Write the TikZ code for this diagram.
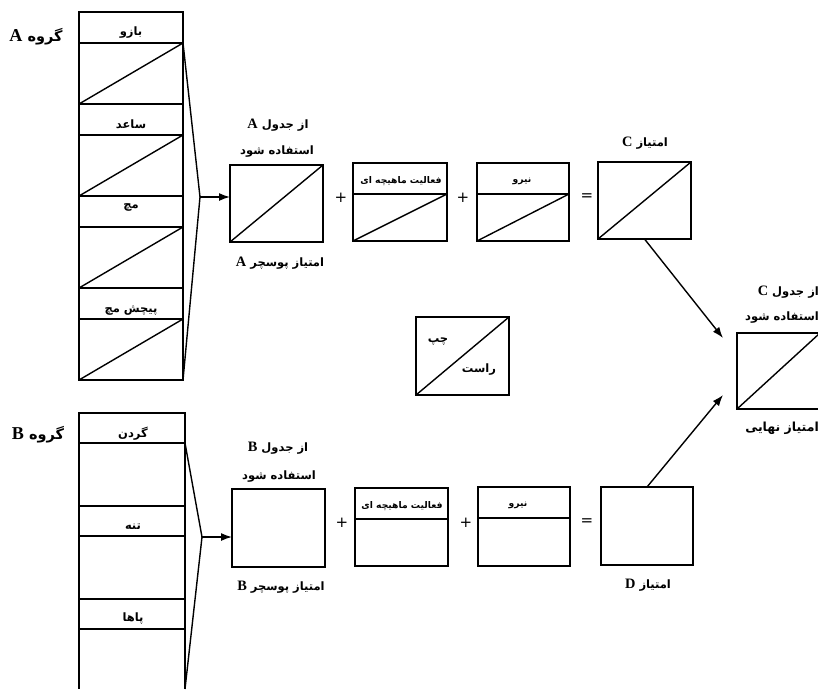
\documentclass[tikz,border=0pt]{standalone}
\usepackage{fontspec}
\usetikzlibrary{arrows.meta}
\TeXXeTstate=1
\newfontfamily\arabicfont[Script=Arabic]{DejaVu Sans}
\newfontfamily\latinf[Scale=1.25]{Liberation Serif}
\newfontfamily\opfont{DejaVu Sans}
\newcommand\fatext[1]{{\arabicfont\beginR #1\endR}}
\newcommand\lat[1]{{\latinf\bfseries #1}}
\tikzset{
  bx/.style={draw, line width=1.4pt, inner sep=0pt, outer sep=0pt},
  open/.style={draw=none, inner sep=0pt, outer sep=0pt},
  txt/.style={inner sep=0pt, font=\bfseries\fontsize{11.5}{13}\selectfont},
  hdr/.style={inner sep=0pt, font=\bfseries\fontsize{9.2}{11}\selectfont},
  grp/.style={inner sep=0pt, font=\bfseries\fontsize{14.5}{16}\selectfont},
  op/.style={inner sep=0pt, font=\opfont\fontsize{15}{16}\selectfont},
  thin/.style={line width=1.4pt},
  arr/.style={line width=1.4pt, -{Latex[length=11pt,width=8pt]}}
}
\begin{document}
\begin{tikzpicture}[x=1pt,y=-1pt]
\useasboundingbox[fill=white] (0,0) rectangle (818,689);

% ---------- Group A column ----------
\node[bx, anchor=north west, minimum width=104, minimum height=31] (a1) at (79,12) {};
\node[bx, anchor=north, minimum width=104, minimum height=61] (a2) at (a1.south) {};
\node[bx, anchor=north, minimum width=104, minimum height=31] (a3) at (a2.south) {};
\node[bx, anchor=north, minimum width=104, minimum height=61] (a4) at (a3.south) {};
\node[bx, anchor=north, minimum width=104, minimum height=31] (a5) at (a4.south) {};
\node[bx, anchor=north, minimum width=104, minimum height=61] (a6) at (a5.south) {};
\node[bx, anchor=north, minimum width=104, minimum height=31] (a7) at (a6.south) {};
\node[bx, anchor=north, minimum width=104, minimum height=61] (a8) at (a7.south) {};
\foreach \n in {a2,a4,a6,a8} \draw[thin] (\n.south west) -- (\n.north east);
\node[txt] (ta1) at (131,33) {\fatext{بازو}};
\node[txt] (ta3) at (131,124) {\fatext{ساعد}};
\node[txt] (ta5) at (131,207) {\fatext{مچ}};
\node[txt] (ta7) at (131,311) {\fatext{پیچش مچ}};
\node[grp] (ga) at (36,37) {\fatext{گروه \lat{A}}};

% ---------- Group B column ----------
\node[bx, anchor=north west, minimum width=106, minimum height=30] (b1) at (79,413) {};
\node[bx, anchor=north, minimum width=106, minimum height=63] (b2) at (b1.south) {};
\node[bx, anchor=north, minimum width=106, minimum height=30] (b3) at (b2.south) {};
\node[bx, anchor=north, minimum width=106, minimum height=63] (b4) at (b3.south) {};
\node[bx, anchor=north, minimum width=106, minimum height=30] (b5) at (b4.south) {};
\node[open, anchor=north, minimum width=106, minimum height=60] (b6) at (b5.south) {};
\draw[thin] (b6.north west) -- (b6.south west);
\draw[thin] (b6.north east) -- (b6.south east);
\node[txt] (tb1) at (133,434) {\fatext{گردن}};
\node[txt] (tb3) at (133,527) {\fatext{تنه}};
\node[txt] (tb5) at (133,619) {\fatext{پاها}};
\node[grp] (gb) at (38,435) {\fatext{گروه \lat{B}}};

% ---------- brackets ----------
\coordinate (apA) at (200,197);
\coordinate (apB) at (202,537);
\draw[thin] (a2.north east) -- (apA) -- (a8.south east);
\draw[thin] (b2.north east) -- (apB) -- (b6.south east);

% ---------- Row A ----------
\node[bx, anchor=north west, minimum width=93, minimum height=77] (pa) at (230,165) {};
\draw[thin] (pa.south west) -- (pa.north east);
\draw[arr] (apA) -- (apA -| pa.west);
\node[txt] (pa1) at (278,125) {\fatext{از جدول \lat{A}}};
\node[txt] (pa2) at (277,152) {\fatext{استفاده شود}};
\node[txt] (pa3) at (280,263) {\fatext{امتیاز پوسچر \lat{A}}};

\node[op] (plA1) at (341,198) {+};
\node[bx, anchor=north west, minimum width=94, minimum height=31] (m1h) at (353,163) {};
\node[bx, anchor=north, minimum width=94, minimum height=47] (m1b) at (m1h.south) {};
\draw[thin] (m1b.south west) -- (m1b.north east);
\node[hdr] (m1t) at (401,181) {\fatext{فعالیت ماهیچه ای}};

\node[op] (plA2) at (463,198) {+};
\node[bx, anchor=north west, minimum width=92, minimum height=31] (f1h) at (477,163) {};
\node[bx, anchor=north, minimum width=92, minimum height=47] (f1b) at (f1h.south) {};
\draw[thin] (f1b.south west) -- (f1b.north east);
\node[hdr] (f1t) at (522,181) {\fatext{نیرو}};

\node[op] (eqA) at (587,197) {=};
\node[bx, anchor=north west, minimum width=93, minimum height=77] (sc) at (598,162) {};
\draw[thin] (sc.south west) -- (sc.north east);
\node[txt] (sct) at (645,143) {\fatext{امتیاز \lat{C}}};

% ---------- legend ----------
\node[bx, anchor=north west, minimum width=93, minimum height=78] (lg) at (416,317) {};
\draw[thin] (lg.south west) -- (lg.north east);
\node[txt] (lgl) at (438,342) {\fatext{چپ}};
\node[txt] (lgr) at (479,370) {\fatext{راست}};

% ---------- Row B ----------
\node[bx, anchor=north west, minimum width=93, minimum height=78] (pb) at (232,489) {};
\draw[arr] (apB) -- (apB -| pb.west);
\node[txt] (pb1) at (278,448) {\fatext{از جدول \lat{B}}};
\node[txt] (pb2) at (279,477) {\fatext{استفاده شود}};
\node[txt] (pb3) at (281,587) {\fatext{امتیاز پوسچر \lat{B}}};

\node[op] (plB1) at (342,523) {+};
\node[bx, anchor=north west, minimum width=93, minimum height=31] (m2h) at (355,488) {};
\node[bx, anchor=north, minimum width=93, minimum height=47] (m2b) at (m2h.south) {};
\node[hdr] (m2t) at (402,506) {\fatext{فعالیت ماهیچه ای}};

\node[op] (plB2) at (466,523) {+};
\node[bx, anchor=north west, minimum width=92, minimum height=31] (f2h) at (478,487) {};
\node[bx, anchor=north, minimum width=92, minimum height=48] (f2b) at (f2h.south) {};
\node[hdr] (f2t) at (518,505) {\fatext{نیرو}};

\node[op] (eqB) at (587,522) {=};
\node[bx, anchor=north west, minimum width=92, minimum height=78] (sd) at (601,487) {};
\node[txt] (sdt) at (648,585) {\fatext{امتیاز \lat{D}}};

% ---------- final score ----------
\node[open, anchor=north west, minimum width=83, minimum height=76] (fin) at (737,333) {};
\draw[thin] (fin.north east) -- (fin.north west) -- (fin.south west) -- (fin.south east);
\draw[thin] (fin.south west) -- (fin.north east);
\node[txt, anchor=east] (fn1) at (819,292) {\fatext{از جدول \lat{C}}};
\node[txt, anchor=east] (fn2) at (819,318) {\fatext{استفاده شود}};
\node[grp, anchor=east, font=\bfseries\fontsize{12.5}{14}\selectfont] (fn3) at (819,428) {\fatext{امتیاز نهایی}};

\coordinate (inC) at (723,338);
\coordinate (inD) at (723,395);
\draw[arr] (sc.south) -- (inC);
\draw[arr] (sd.north) -- (inD);
\end{tikzpicture}
\end{document}
